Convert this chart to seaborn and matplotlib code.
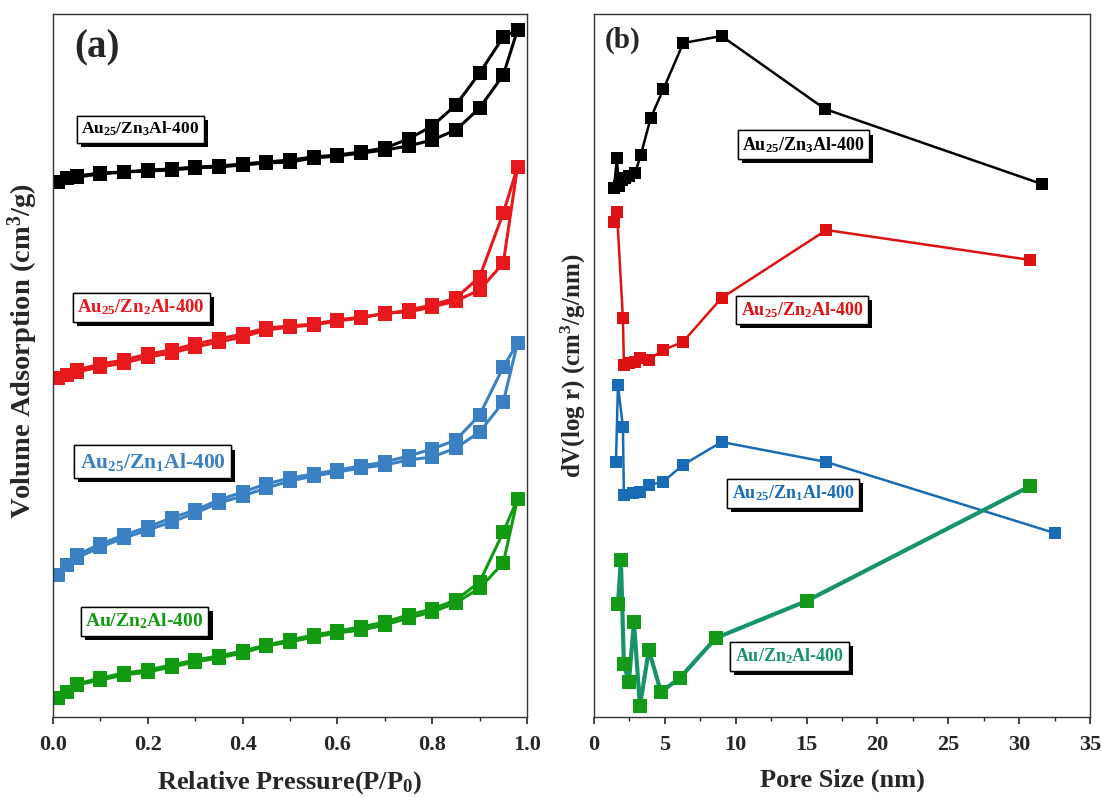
import numpy as np
import pandas as pd
import matplotlib
matplotlib.use("Agg")
import matplotlib.pyplot as plt
import matplotlib.patheffects as pe
from matplotlib.ticker import MultipleLocator, NullLocator
import seaborn as sns

# ---------------- data (panel a: N2 isotherms, arbitrary stacked units) ----------------
P_ads = [0.01, 0.03, 0.05, 0.10, 0.15, 0.20, 0.25, 0.30, 0.35, 0.40, 0.45,
         0.50, 0.55, 0.60, 0.65, 0.70, 0.75, 0.80, 0.85, 0.90, 0.95, 0.98]
P_des = [0.98, 0.95, 0.90, 0.85, 0.80, 0.75, 0.70, 0.65, 0.60, 0.55,
         0.50, 0.45, 0.40, 0.35, 0.30, 0.25, 0.20, 0.15, 0.10, 0.05]

zn3_ads = [538, 542, 543, 546, 548, 549, 550, 552, 553, 555, 557,
           558, 562, 564, 567, 570, 574, 580, 590, 612, 645, 690]
zn3_des = [690, 683, 647, 615, 594, 581, 572, 568, 565, 563,
           560, 558, 556, 554, 553, 551, 550, 548, 547, 544]

zn2_ads = [342, 345, 348, 353, 357, 363, 367, 373, 378, 383, 390,
           393, 395, 399, 402, 407, 408, 413, 419, 430, 457, 553]
zn2_des = [553, 507, 443, 422, 415, 410, 406, 403, 400, 396,
           394, 392, 386, 381, 376, 370, 366, 360, 356, 350]

zn1_ads = [145, 155, 162, 173, 182, 190, 198, 207, 217, 224, 232,
           239, 244, 248, 252, 255, 260, 263, 272, 288, 318, 377]
zn1_des = [377, 353, 305, 280, 271, 264, 258, 254, 250, 246,
           242, 236, 228, 220, 210, 202, 193, 185, 176, 165]

au_ads = [22, 28, 35, 40, 45, 48, 53, 58, 62, 67, 74,
          78, 83, 87, 90, 95, 102, 108, 117, 132, 157, 221]
au_des = [221, 188, 138, 120, 111, 105, 98, 93, 89, 85,
          80, 75, 69, 64, 60, 55, 50, 47, 42, 36]

# ---------------- data (panel b: pore size distribution, arbitrary stacked units) ----------------
d_zn3 = [1.41, 1.62, 1.75, 1.95, 2.2, 2.5, 2.9, 3.3, 4.0, 4.9, 6.3, 9.0, 16.3, 31.6]
v_zn3 = [532, 562, 534, 540, 542, 544, 547, 565, 602, 631, 677, 684, 611, 536]

d_zn2 = [1.41, 1.62, 2.04, 2.11, 2.5, 2.89, 3.24, 3.87, 4.86, 6.27, 9.0, 16.4, 30.8]
v_zn2 = [498, 508, 402, 355, 357, 358, 362, 360, 370, 378, 422, 490, 460]

d_zn1 = [1.55, 1.69, 2.04, 2.11, 2.75, 3.24, 3.87, 4.86, 6.27, 9.0, 16.4, 32.5]
v_zn1 = [258, 335, 293, 225, 227, 228, 235, 238, 255, 278, 258, 187]

d_au = [1.69, 1.9, 2.11, 2.46, 2.82, 3.24, 3.87, 4.72, 6.06, 8.6, 15.0, 30.8]
v_au = [116, 160, 56, 38, 98, 14, 70, 28, 42, 82, 119, 234]

xticks_a = [0.0, 0.2, 0.4, 0.6, 0.8, 1.0]
xticks_b = [0, 5, 10, 15, 20, 25, 30, 35]

# ---------------- style ----------------
sns.set_theme(style="ticks")
plt.rcParams["font.family"] = ["Liberation Serif", "DejaVu Serif"]
plt.rcParams["font.weight"] = "bold"
plt.rcParams["axes.labelweight"] = "bold"
plt.rcParams["mathtext.fontset"] = "custom"
plt.rcParams["mathtext.rm"] = "Liberation Serif:bold"
plt.rcParams["mathtext.it"] = "Liberation Serif:bold"
plt.rcParams["mathtext.bf"] = "Liberation Serif:bold"

BLACK = "#000000"
RED = "#e8191c"
BLUE = "#3a80c3"
GREEN = "#139a13"
RED_B = "#dd1111"
BLUE_B = "#1a6bb5"
GREEN_B_LINE = "#17936a"
GREEN_B_MARK = "#14991a"

fig = plt.figure(figsize=(11.02, 7.98), dpi=100)
W, H = 1102, 798
ax1 = fig.add_axes([53 / W, 1 - 717 / H, (527 - 53) / W, (717 - 14) / H])
ax2 = fig.add_axes([594 / W, 1 - 717 / H, (1090 - 594) / W, (717 - 14) / H])


def draw(ax, x, y, color, ms, lw, mcolor=None):
    sns.lineplot(x=x, y=y, ax=ax, sort=False, estimator=None, color=color,
                 lw=lw, marker="s", markersize=ms,
                 markerfacecolor=mcolor or color, markeredgecolor=mcolor or color,
                 markeredgewidth=0)


# panel (a)
for ads, des, c in [(zn3_ads, zn3_des, BLACK), (zn2_ads, zn2_des, RED),
                    (zn1_ads, zn1_des, BLUE), (au_ads, au_des, GREEN)]:
    draw(ax1, P_ads, ads, c, 10, 2.2)
    draw(ax1, P_des, des, c, 10, 2.2)

# panel (b)
draw(ax2, d_zn3, v_zn3, BLACK, 9, 1.8)
draw(ax2, d_zn2, v_zn2, RED_B, 9, 1.8)
draw(ax2, d_zn1, v_zn1, BLUE_B, 9, 1.8)
draw(ax2, d_au, v_au, GREEN_B_LINE, 10, 3.0, mcolor=GREEN_B_MARK)

for ax in (ax1, ax2):
    ax.set_ylim(3, 706)
    ax.yaxis.set_major_locator(NullLocator())
    ax.yaxis.set_minor_locator(NullLocator())
    for s in ax.spines.values():
        s.set_visible(True)
        s.set_linewidth(1.0)
        s.set_color("#333333")
    ax.tick_params(axis="x", which="major", direction="out", length=5, width=1.2,
                   labelsize=16, pad=8)
    ax.tick_params(axis="x", which="minor", direction="out", length=3, width=1)

ax1.set_xlim(0, 1.0)
ax1.set_xticks(xticks_a)
ax1.set_xticklabels([f"{v:.1f}" for v in xticks_a], fontweight="bold")
ax1.xaxis.set_minor_locator(MultipleLocator(0.1))
ax2.set_xlim(0, 35)
ax2.set_xticks(xticks_b)
ax2.set_xticklabels([str(v) for v in xticks_b], fontweight="bold")
ax2.xaxis.set_minor_locator(MultipleLocator(2.5))

ax1.set_xlabel(r"Relative Pressure(P/P$_{0}$)", fontsize=19, fontweight="bold", labelpad=10)
ax1.set_ylabel(r"Volume Adsorption (cm$^{3}$/g)", fontsize=20.5, fontweight="bold")
ax1.yaxis.set_label_coords(-0.028, 0.52)
ax2.set_xlabel("Pore Size (nm)", fontsize=19, fontweight="bold", labelpad=10)
ax2.set_ylabel(r"dV(log r) (cm$^{3}$/g/nm)", fontsize=18, fontweight="bold")
ax2.yaxis.set_label_coords(-0.012, 0.5)

ax1.text(0.045, 0.952, "(a)", transform=ax1.transAxes, fontsize=28,
         fontweight="bold", va="center", ha="left")
ax2.text(0.022, 0.962, "(b)", transform=ax2.transAxes, fontsize=21,
         fontweight="bold", va="center", ha="left")


def label(ax, x, y, s, color, size):
    t = ax.text(x, y, s, transform=ax.transAxes, color=color, fontsize=size,
                fontweight="bold", ha="center", va="center", zorder=10,
                bbox=dict(boxstyle="square,pad=0.25", fc="white", ec="black", lw=1.0))
    t.get_bbox_patch().set_path_effects([
        pe.withSimplePatchShadow(offset=(3, -3), shadow_rgbFace="black", alpha=1.0),
        pe.Normal()])


label(ax1, 0.184, 0.836, r"Au$_{25}$/Zn$_{3}$Al-400", BLACK, 12.5)
label(ax1, 0.186, 0.583, r"Au$_{25}$/Zn$_{2}$Al-400", RED, 13.5)
label(ax1, 0.210, 0.363, r"Au$_{25}$/Zn$_{1}$Al-400", BLUE, 15.5)
label(ax1, 0.193, 0.136, r"Au/Zn$_{2}$Al-400", GREEN, 14)

label(ax2, 0.422, 0.814, r"Au$_{25}$/Zn$_{3}$Al-400", BLACK, 13)
label(ax2, 0.419, 0.579, r"Au$_{25}$/Zn$_{2}$Al-400", RED_B, 13)
label(ax2, 0.401, 0.318, r"Au$_{25}$/Zn$_{1}$Al-400", BLUE_B, 13)
label(ax2, 0.394, 0.086, r"Au/Zn$_{2}$Al-400", GREEN_B_LINE, 13)

fig.savefig("out.png", dpi=100)
